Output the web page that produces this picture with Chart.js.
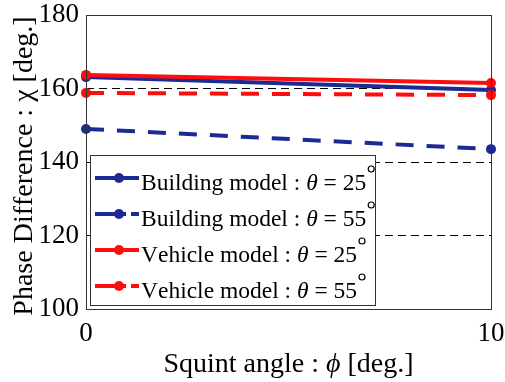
<!DOCTYPE html>
<html>
<head>
<meta charset="utf-8">
<script src="https://cdn.jsdelivr.net/npm/chart.js@4"></script>
<style>
  html, body { margin: 0; padding: 0; background: #fff; }
  #wrap { width: 505px; height: 382px; position: relative; }
</style>
</head>
<body>
<div id="wrap"><canvas id="phaseChart"></canvas></div>
<script>
// squint angle (deg.) and phase difference per model
const squintAngles = [0, 10];
const buildingTheta25 = [163.1, 159.6];
const buildingTheta55 = [149.0, 143.5];
const vehicleTheta25 = [163.7, 161.5];
const vehicleTheta55 = [158.8, 158.2];

const seriesLabels = [
    'Building model : θ = 25°',
    'Building model : θ = 55°',
    'Vehicle model : θ = 25°',
    'Vehicle model : θ = 55°'
];
const yTickValues = [100, 120, 140, 160, 180];
const xTickValues = [0, 10];
const yTitle = 'Phase Difference : χ [deg.]';
const xTitle = 'Squint angle : ϕ [deg.]';

const BLUE = '#1c2a94';
const RED = '#ff0d0d';
const SERIF = '"Liberation Serif", "DejaVu Serif", serif';
const DASH = [18, 13];

function series(label, data, color, dashed, order) {
    return {
        label: label,
        data: squintAngles.map((x, i) => ({ x: x, y: data[i] })),
        borderColor: color,
        backgroundColor: color,
        borderWidth: 4,
        borderDash: dashed ? DASH : [],
        pointRadius: 5,
        pointHoverRadius: 5,
        pointBorderWidth: 0,
        clip: false,
        order: order
    };
}

function fontFor(ch, size) {
    return (ch === 'θ' || ch === 'ϕ' ? 'italic ' : '') + size + 'px ' + SERIF;
}

// draws text with italic greek letters and a small raised degree ring
function richText(ctx, text, x, y, size) {
    let cx = x;
    for (const ch of text) {
        if (ch === '°') {
            const r = 3;
            ctx.save();
            ctx.strokeStyle = ctx.fillStyle;
            ctx.lineWidth = 1.2;
            ctx.beginPath();
            ctx.arc(cx + r + 2, y - 21, r, 0, Math.PI * 2);
            ctx.stroke();
            ctx.restore();
            cx += 2 * r + 3;
            continue;
        }
        ctx.font = fontFor(ch, size);
        ctx.fillText(ch, cx, y);
        cx += ctx.measureText(ch).width;
    }
    return cx - x;
}

function richWidth(ctx, text, size) {
    let w = 0;
    for (const ch of text) {
        if (ch === '°') { w += 9; continue; }
        ctx.font = fontFor(ch, size);
        w += ctx.measureText(ch).width;
    }
    return w;
}

const decorations = {
    id: 'decorations',
    afterDraw(chart) {
        const ctx = chart.ctx;
        const a = chart.chartArea;
        ctx.save();

        // box around the plot
        ctx.strokeStyle = '#333';
        ctx.lineWidth = 1;
        ctx.setLineDash([]);
        ctx.strokeRect(a.left + 0.5, a.top + 0.5, a.right - a.left, a.bottom - a.top);

        // axis titles
        ctx.fillStyle = '#000';
        ctx.textBaseline = 'alphabetic';
        const ts = 28;
        const xw = richWidth(ctx, xTitle, ts);
        richText(ctx, xTitle, (a.left + a.right) / 2 - xw / 2, 372, ts);

        ctx.save();
        ctx.translate(32, (a.top + a.bottom) / 2 + 4);
        ctx.rotate(-Math.PI / 2);
        const yw = richWidth(ctx, yTitle, ts);
        richText(ctx, yTitle, -yw / 2, 0, ts);
        ctx.restore();

        // legend inside the plot
        const box = { left: a.left + 4, top: 155, right: 375, bottom: 305 };
        ctx.fillStyle = '#fff';
        ctx.fillRect(box.left, box.top, box.right - box.left, box.bottom - box.top);
        ctx.strokeStyle = '#333';
        ctx.lineWidth = 1;
        ctx.strokeRect(box.left + 0.5, box.top + 0.5, box.right - box.left, box.bottom - box.top);

        const rowY = [178, 214, 250, 286];
        chart.data.datasets.forEach((ds, i) => {
            const y = rowY[i];
            ctx.strokeStyle = ds.borderColor;
            ctx.fillStyle = ds.borderColor;
            ctx.lineWidth = 4;
            ctx.setLineDash([]);
            ctx.beginPath();
            if (ds.borderDash.length) {
                ctx.moveTo(95, y); ctx.lineTo(126, y);
                ctx.moveTo(131, y); ctx.lineTo(139, y);
            } else {
                ctx.moveTo(95, y); ctx.lineTo(139, y);
            }
            ctx.stroke();
            ctx.beginPath();
            ctx.arc(119, y, 5, 0, Math.PI * 2);
            ctx.fill();

            ctx.fillStyle = '#000';
            richText(ctx, ds.label, 141, y + 12, 23.5);
        });

        ctx.restore();
    }
};

new Chart(document.getElementById('phaseChart'), {
    type: 'line',
    data: {
        datasets: [
            series(seriesLabels[0], buildingTheta25, BLUE, false, 1),
            series(seriesLabels[1], buildingTheta55, BLUE, true, 1),
            series(seriesLabels[2], vehicleTheta25, RED, false, 0),
            series(seriesLabels[3], vehicleTheta55, RED, true, 0)
        ]
    },
    plugins: [decorations],
    options: {
        responsive: true,
        maintainAspectRatio: false,
        animation: false,
        layout: { padding: { top: 15, right: 14, left: 0, bottom: 0 } },
        plugins: {
            legend: { display: false },
            tooltip: { enabled: false }
        },
        scales: {
            x: {
                type: 'linear',
                min: 0,
                max: 10,
                afterBuildTicks: s => { s.ticks = xTickValues.map(v => ({ value: v })); },
                afterFit: s => { s.height = 73; s.paddingLeft = 0; s.paddingRight = 0; },
                grid: { display: false, drawTicks: false },
                border: { display: false },
                ticks: {
                    color: '#000',
                    font: { family: SERIF, size: 27 },
                    padding: 9,
                    maxRotation: 0
                }
            },
            y: {
                min: 100,
                max: 180,
                afterBuildTicks: s => { s.ticks = yTickValues.map(v => ({ value: v })); },
                afterFit: s => { s.width = 86; s.paddingTop = 0; s.paddingBottom = 0; },
                grid: {
                    drawTicks: false,
                    color: c => (c.tick && (c.tick.value === 100 || c.tick.value === 180)) ? 'rgba(0,0,0,0)' : '#000',
                    lineWidth: 1
                },
                border: { display: false, dash: [8, 5] },
                ticks: {
                    color: '#000',
                    font: { family: SERIF, size: 27 },
                    padding: 7
                }
            }
        }
    }
});
</script>
</body>
</html>
